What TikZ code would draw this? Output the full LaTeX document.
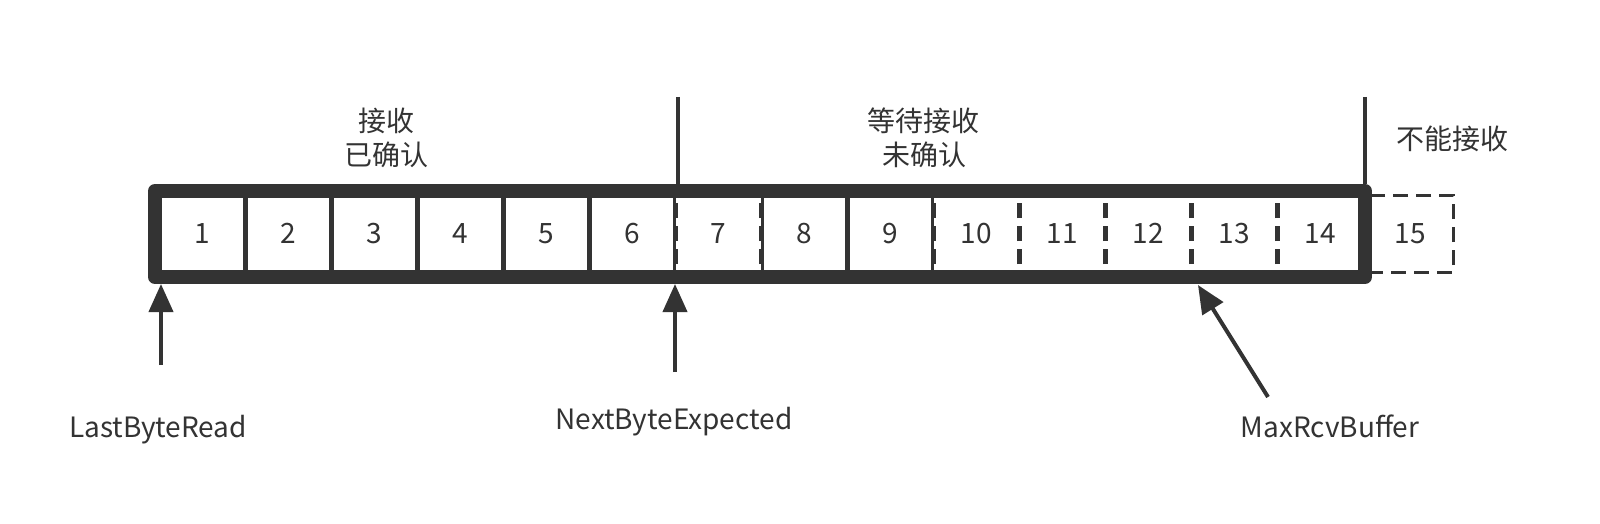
\documentclass[tikz,border=0pt]{standalone}
\usepackage{fontspec}
\setmainfont{Noto Sans CJK SC}
\usetikzlibrary{arrows.meta}
\definecolor{ink}{HTML}{333333}
\begin{document}
\begin{tikzpicture}[x=1pt,y=-1pt,
  every node/.style={font=\fontsize{28}{34}\selectfont, text=ink},
  cellbox/.style={draw=ink, fill=white, line width=3pt, minimum width=84pt, minimum height=77pt, inner sep=0pt, outer sep=0pt, anchor=north west},
  dashcell/.style={cellbox, dash pattern=on 15pt off 8pt},
  label/.style={inner sep=0pt, anchor=center},
  baselabel/.style={inner sep=0pt, anchor=base},
  pointer/.style={draw=ink, line width=4pt, -{Triangle[length=28pt,width=24pt]}},
  divider/.style={draw=ink, line width=4pt}
]
\fill[white] (0,0) rectangle (1600,524);
\useasboundingbox (0,0) rectangle (1600,524);

% cells
\node[cellbox]  (c1)  at (160,195) {1};
\node[cellbox]  (c2)  at (246,195) {2};
\node[cellbox]  (c3)  at (332,195) {3};
\node[cellbox]  (c4)  at (418,195) {4};
\node[cellbox]  (c5)  at (504,195) {5};
\node[cellbox]  (c6)  at (590,195) {6};
\node[dashcell] (c7)  at (676,195) {7};
\node[cellbox]  (c8)  at (762,195) {8};
\node[cellbox]  (c9)  at (848,195) {9};
\node[dashcell] (c10) at (934,195) {10};
\node[dashcell] (c11) at (1020,195) {11};
\node[dashcell] (c12) at (1106,195) {12};
\node[dashcell] (c13) at (1192,195) {13};
\node[dashcell] (c14) at (1278,195) {14};
\node[dashcell, minimum width=85pt] (c15) at (1368,195) {15};

% thick window border (anchor includes the 7pt outer sep)
\node[draw=ink, line width=14pt, line join=round, minimum width=1210pt, minimum height=86pt, inner sep=0pt, anchor=north west] (win) at (148,184) {};

% dividers above
\coordinate (d1) at (678,97);
\coordinate (d2) at (1365,97);
\draw[divider] (d1) -- (d1 |- win.north);
\draw[divider] (d2) -- (d2 |- win.north);

% region labels
\node[label] (l1a) at (386,121) {接收};
\node[label] (l1b) at (386,155) {已确认};
\node[label] (l2a) at (923,121) {等待接收};
\node[label] (l2b) at (924,155) {未确认};
\node[label] (l3)  at (1452,139) {不能接收};

% pointers
\coordinate (p1) at (161,365);
\coordinate (p2) at (675,372);
\coordinate (p3) at (1268,397);
\coordinate (p3tip) at (1198,285);
\draw[pointer] (p1) -- (p1 |- win.south);
\draw[pointer] (p2) -- (p2 |- win.south);
\draw[pointer] (p3) -- (p3tip);

\node[baselabel] (n1) at (158,437) {LastByteRead};
\node[baselabel] (n2) at (674,429) {NextByteExpected};
\node[baselabel] (n3) at (1330,437) {MaxRcvBuffer};
\end{tikzpicture}
\end{document}
